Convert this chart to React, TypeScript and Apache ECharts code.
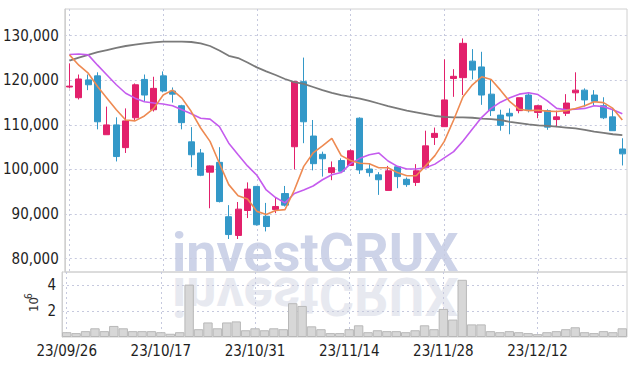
import React, { useEffect, useRef } from 'react';
import * as echarts from 'echarts';

const dates = [
  '23/09/26', '23/09/27', '23/10/04', '23/10/05', '23/10/06', '23/10/10', '23/10/11', '23/10/12', '23/10/13', '23/10/16',
  '23/10/17', '23/10/18', '23/10/19', '23/10/20', '23/10/23', '23/10/24', '23/10/25', '23/10/26', '23/10/27', '23/10/30',
  '23/10/31', '23/11/01', '23/11/02', '23/11/03', '23/11/06', '23/11/07', '23/11/08', '23/11/09', '23/11/10', '23/11/13',
  '23/11/14', '23/11/15', '23/11/16', '23/11/17', '23/11/20', '23/11/21', '23/11/22', '23/11/23', '23/11/24', '23/11/27',
  '23/11/28', '23/11/29', '23/11/30', '23/12/01', '23/12/04', '23/12/05', '23/12/06', '23/12/07', '23/12/08', '23/12/11',
  '23/12/12', '23/12/13', '23/12/14', '23/12/15', '23/12/18', '23/12/19', '23/12/20', '23/12/21', '23/12/22', '23/12/26',
];

// [open, close, low, high]
const ohlc = [
  [118500, 118700, 118200, 123800], [116100, 120300, 115700, 121300], [120100, 119000, 117800, 121300],
  [121000, 110700, 109000, 121800], [107800, 110000, 107800, 114100], [110000, 102900, 101800, 111700],
  [104900, 110900, 103700, 113700], [111600, 119000, 111100, 119300], [120200, 116700, 115200, 121300],
  [113400, 118200, 113000, 120800], [121000, 117600, 117300, 122000], [117600, 116900, 115000, 118400],
  [114300, 110500, 109000, 114500], [106200, 103300, 100500, 109500], [103700, 98700, 98500, 104600],
  [99400, 100800, 91300, 100900], [101600, 92800, 92600, 105000], [89400, 85400, 84400, 92000],
  [85200, 91100, 84400, 92700], [90800, 95600, 89100, 97100], [96200, 87600, 87400, 96300],
  [89500, 87200, 86100, 92500], [91000, 91700, 90200, 93600], [94600, 92000, 91700, 96300],
  [105100, 119700, 100000, 119900], [119700, 110700, 105900, 125100], [107500, 101300, 99800, 111100],
  [103400, 102400, 98400, 104000], [99300, 100400, 97600, 101800], [102000, 99600, 99600, 102500],
  [100900, 104200, 100900, 104500], [111500, 99900, 99000, 111700], [100100, 99300, 98400, 101400],
  [98800, 97700, 94300, 99400], [95300, 99700, 95300, 100800], [100600, 98400, 95800, 100600],
  [97800, 96600, 96100, 98200], [97100, 99700, 96300, 101200], [100400, 105300, 100400, 108700],
  [107200, 108100, 105500, 109400], [109600, 115600, 109600, 124700], [120400, 120900, 116300, 122500],
  [120600, 128300, 116700, 129400], [124300, 122300, 120200, 127000], [123000, 116700, 114500, 126400],
  [116900, 113200, 112000, 120200], [112200, 109900, 108700, 113400], [112600, 112000, 107900, 113700],
  [113200, 116100, 112600, 116100], [116700, 113400, 112800, 117100], [112800, 114300, 111500, 114500],
  [113200, 109500, 108900, 113500], [111200, 111800, 109500, 113200], [112600, 114900, 112000, 116900],
  [117200, 117800, 115400, 121800], [117800, 115600, 114100, 118200], [116700, 115300, 114300, 117800],
  [114300, 111600, 111300, 116200], [111800, 108700, 108700, 113800], [104600, 103500, 100900, 107000],
];

const volumes = [
  370000, 300000, 450000, 670000, 450000, 850000, 670000, 450000, 450000, 450000,
  370000, 250000, 370000, 4030000, 600000, 1120000, 670000, 1120000, 1200000, 520000,
  670000, 520000, 670000, 600000, 2600000, 2390000, 820000, 600000, 300000, 300000,
  600000, 900000, 370000, 520000, 450000, 450000, 370000, 520000, 900000, 600000,
  2160000, 1340000, 4400000, 970000, 970000, 450000, 370000, 450000, 370000, 300000,
  220000, 370000, 450000, 600000, 750000, 370000, 300000, 450000, 370000, 670000,
];

const maShort = [
  125700, 123400, 121600, 118600, 116000, 113400, 111100, 110900, 112000, 113700,
  116700, 117800, 116000, 113000, 109300, 106300, 101400, 96600, 94100, 93400,
  90600, 89900, 90800, 91000, 95400, 100700, 103700, 105300, 107000, 103100,
  102000, 101400, 101300, 100400, 100400, 99300, 98600, 98600, 100800, 103100,
  106300, 111100, 116300, 119000, 120800, 120200, 117800, 115200, 113500, 113200,
  113300, 113100, 113000, 113200, 113700, 114300, 115200, 115000, 113700, 111100,
];

const maMid = [
  125800, 125900, 125700, 123400, 121200, 119000, 117100, 116000, 115200, 114900,
  114700, 114300, 113400, 112500, 111500, 111300, 109600, 105900, 103300, 100800,
  98700, 95400, 93700, 92500, 94600, 95400, 96300, 97700, 98800, 99300,
  101300, 102500, 103300, 103700, 101900, 100700, 100100, 100100, 100400, 101200,
  102600, 104000, 106400, 109100, 111700, 113700, 115100, 116100, 116900, 117200,
  116800, 115400, 113700, 113400, 113500, 113700, 114300, 114100, 113400, 112500,
];

const maLong = [
  124400, 125100, 125700, 126300, 126800, 127300, 127700, 128000, 128300, 128500,
  128700, 128700, 128700, 128600, 128300, 127700, 126700, 125500, 125000, 124000,
  122900, 122000, 121200, 120300, 119600, 119200, 118500, 117800, 117200, 116700,
  116300, 115900, 115400, 114800, 114200, 113700, 113200, 112800, 112400, 112000,
  111800, 111700, 111700, 111600, 111400, 111300, 111100, 110700, 110400, 110100,
  109900, 109800, 109600, 109400, 109200, 108900, 108500, 108200, 107900, 107700,
];

const priceTicks = [80000, 90000, 100000, 110000, 120000, 130000];
const volumeTicks = [2000000, 4000000];

const FONT = '"Liberation Sans Narrow", "DejaVu Sans Condensed", Roboto, sans-serif';
const RED = '#e2206b';
const BLUE = '#3398c8';
const GRID_LINE = { color: '#c6c9de', type: [2, 3] as any, width: 1 };

export default function App() {
  const ref = useRef<HTMLDivElement>(null);
  useEffect(() => {
    document.body.style.margin = '0';
    const chart = echarts.init(ref.current!, undefined, { renderer: 'svg' });
    const option: any = {
      animation: false,
      backgroundColor: '#ffffff',
      grid: [
        { left: 62, right: 8, top: 9, height: 263, show: true, borderColor: '#d0d0d0', borderWidth: 1 },
        { left: 62, right: 8, top: 272, height: 65, show: true, borderColor: '#d0d0d0', borderWidth: 1 },
      ],
      xAxis: [
        {
          type: 'category', data: dates, gridIndex: 0, boundaryGap: true,
          axisLine: { show: false }, axisTick: { show: false }, axisLabel: { show: false },
          splitLine: { show: true, interval: (i: number) => i % 10 === 0, alignWithLabel: true, lineStyle: GRID_LINE },
        },
        {
          type: 'category', data: dates, gridIndex: 1, boundaryGap: true,
          axisLine: { show: false }, axisTick: { show: false },
          axisLabel: { show: true, interval: 9, fontFamily: FONT, fontSize: 15, color: '#1e1e1e', margin: 6 },
          splitLine: { show: true, interval: (i: number) => i % 10 === 0, alignWithLabel: true, lineStyle: GRID_LINE },
        },
      ],
      yAxis: [
        {
          type: 'value', gridIndex: 0, min: 77000, max: 136000,
          axisLine: { show: true, lineStyle: { color: '#d0d0d0' } },
          axisTick: { show: false, customValues: priceTicks },
          axisLabel: {
            customValues: priceTicks, fontFamily: FONT, fontSize: 15, color: '#1e1e1e', margin: 6,
            formatter: (v: number) => String(v).replace(/\B(?=(\d{3})+(?!\d))/g, ','),
          },
          splitLine: { show: true, lineStyle: GRID_LINE },
        },
        {
          type: 'value', gridIndex: 1, min: 0, max: 5000000,
          axisLine: { show: true, lineStyle: { color: '#d0d0d0' } },
          axisTick: { show: false, customValues: volumeTicks },
          axisLabel: {
            customValues: volumeTicks, fontFamily: FONT, fontSize: 15, color: '#1e1e1e', margin: 6,
            formatter: (v: number) => String(v / 1000000),
          },
          splitLine: { show: true, lineStyle: GRID_LINE },
        },
      ],
      graphic: [
        {
          type: 'text', x: 172, y: 252, z: 0, silent: true,
          style: { text: 'investCRUX', font: 'bold 54px Roboto', fill: '#cdd3e8', verticalAlign: 'middle' },
        },
        {
          type: 'text', x: 172, y: 296, z: 0, scaleY: -1, silent: true,
          style: { text: 'investCRUX', font: 'bold 54px Roboto', fill: '#e7e9f0', verticalAlign: 'middle' },
        },
        {
          type: 'group', x: 33, y: 312, rotation: Math.PI / 2, silent: true,
          children: [
            { type: 'text', x: 0, y: 0, style: { text: '10', font: '13px ' + FONT, fill: '#333', verticalAlign: 'middle' } },
            { type: 'text', x: 13, y: -5, style: { text: '6', font: '10px ' + FONT, fill: '#333', verticalAlign: 'middle' } },
          ],
        },
      ],
      series: [
        {
          type: 'candlestick', xAxisIndex: 0, yAxisIndex: 0, data: ohlc, barWidth: '70%',
          itemStyle: { color: RED, color0: BLUE, borderColor: RED, borderColor0: BLUE, borderWidth: 1 },
        },
        { type: 'line', xAxisIndex: 0, yAxisIndex: 0, data: maLong, symbol: 'none', lineStyle: { color: '#7a7a7a', width: 1.8 } },
        { type: 'line', xAxisIndex: 0, yAxisIndex: 0, data: maMid, symbol: 'none', lineStyle: { color: '#c55cee', width: 1.6 } },
        { type: 'line', xAxisIndex: 0, yAxisIndex: 0, data: maShort, symbol: 'none', lineStyle: { color: '#ee8a52', width: 1.6 } },
        {
          type: 'bar', xAxisIndex: 1, yAxisIndex: 1, data: volumes, barWidth: '100%',
          itemStyle: { color: '#d7d7d7', borderColor: '#b8b8b8', borderWidth: 1 },
        },
      ],
    };
    chart.setOption(option);
    return () => chart.dispose();
  }, []);
  return <div ref={ref} style={{ position: 'absolute', left: 0, top: 0, width: 635, height: 366 }} />;
}
